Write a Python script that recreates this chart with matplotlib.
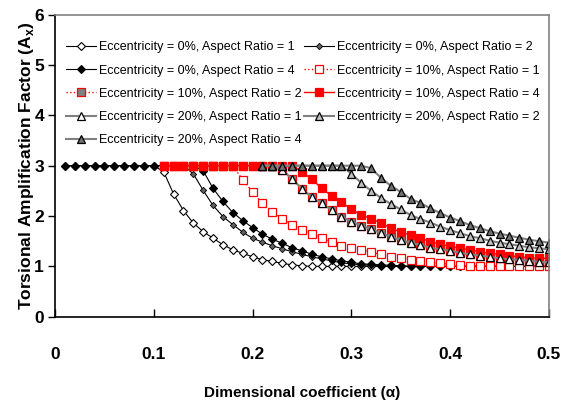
import matplotlib
matplotlib.use("Agg")
import matplotlib.pyplot as plt

# ---- data ----
alpha = [0.01, 0.02, 0.03, 0.04, 0.05, 0.06, 0.07, 0.08, 0.09, 0.10,
         0.11, 0.12, 0.13, 0.14, 0.15, 0.16, 0.17, 0.18, 0.19, 0.20,
         0.21, 0.22, 0.23, 0.24, 0.25, 0.26, 0.27, 0.28, 0.29, 0.30,
         0.31, 0.32, 0.33, 0.34, 0.35, 0.36, 0.37, 0.38, 0.39, 0.40,
         0.41, 0.42, 0.43, 0.44, 0.45, 0.46, 0.47, 0.48, 0.49, 0.50]
alpha_e0 = alpha
alpha_e10 = alpha[10:]
alpha_e20 = alpha[20:]

e0_ar1 = [3.0] * 10 + [2.88, 2.44, 2.11, 1.86, 1.69, 1.56, 1.43, 1.33, 1.26, 1.19,
                       1.13, 1.10, 1.06, 1.03, 1.01] + [1.0] * 25
e0_ar2 = [3.0] * 13 + [2.84, 2.51, 2.21, 1.99, 1.83, 1.68, 1.56, 1.48, 1.41, 1.35,
                       1.29, 1.24, 1.19, 1.15, 1.11, 1.07, 1.05, 1.03, 1.02, 1.01] + [1.0] * 17
e0_ar4 = [3.0] * 14 + [2.90, 2.55, 2.29, 2.07, 1.91, 1.77, 1.64, 1.54, 1.46, 1.37,
                       1.31, 1.24, 1.19, 1.15, 1.11, 1.08, 1.05, 1.04, 1.03, 1.02,
                       1.01] + [1.0] * 15
e10_ar1 = [3.0] * 8 + [2.72, 2.48, 2.25, 2.09, 1.95, 1.82, 1.72, 1.64, 1.56, 1.48,
                       1.41, 1.37, 1.33, 1.28, 1.24, 1.19, 1.16, 1.13, 1.11, 1.08,
                       1.06, 1.05, 1.03, 1.01] + [1.0] * 8
e10_ar2 = [3.0] * 12 + [2.91, 2.74, 2.54, 2.38, 2.25, 2.12, 1.99, 1.89, 1.81, 1.74,
                        1.66, 1.59, 1.52, 1.47, 1.42, 1.37, 1.34, 1.31, 1.27, 1.24,
                        1.21, 1.19, 1.16, 1.14, 1.13, 1.11, 1.09, 1.08]
e10_ar4 = [3.0] * 14 + [2.88, 2.73, 2.55, 2.40, 2.27, 2.14, 2.02, 1.95, 1.86, 1.76,
                        1.68, 1.62, 1.56, 1.49, 1.44, 1.40, 1.36, 1.33, 1.29, 1.26,
                        1.24, 1.21, 1.19, 1.17, 1.16, 1.16]
e20_ar1 = [3.0] * 2 + [2.91, 2.74, 2.54, 2.38, 2.25, 2.12, 1.99, 1.89, 1.81, 1.74,
                       1.66, 1.59, 1.52, 1.47, 1.42, 1.37, 1.34, 1.31, 1.27, 1.24,
                       1.21, 1.19, 1.16, 1.14, 1.13, 1.11, 1.09, 1.08]
e20_ar2 = [3.0] * 9 + [2.84, 2.66, 2.50, 2.36, 2.24, 2.13, 2.02, 1.94, 1.87, 1.79,
                       1.72, 1.66, 1.60, 1.56, 1.51, 1.47, 1.44, 1.41, 1.38, 1.36, 1.34]
e20_ar4 = [3.0] * 11 + [2.95, 2.76, 2.60, 2.48, 2.34, 2.26, 2.15, 2.06, 1.97, 1.90,
                        1.82, 1.76, 1.70, 1.65, 1.61, 1.57, 1.53, 1.50, 1.47]

labels = ["Eccentricity = 0%, Aspect Ratio = 1",
          "Eccentricity = 0%, Aspect Ratio = 2",
          "Eccentricity = 0%, Aspect Ratio = 4",
          "Eccentricity = 10%, Aspect Ratio = 1",
          "Eccentricity = 10%, Aspect Ratio = 2",
          "Eccentricity = 10%, Aspect Ratio = 4",
          "Eccentricity = 20%, Aspect Ratio = 1",
          "Eccentricity = 20%, Aspect Ratio = 2",
          "Eccentricity = 20%, Aspect Ratio = 4"]

x_ticks = [0, 0.1, 0.2, 0.3, 0.4, 0.5]
x_ticklabels = ["0", "0.1", "0.2", "0.3", "0.4", "0.5"]
y_ticks = [0, 1, 2, 3, 4, 5, 6]

# ---- plot ----
plt.rcParams["font.family"] = ["Liberation Sans", "DejaVu Sans"]
plt.rcParams["mathtext.fontset"] = "custom"
plt.rcParams["mathtext.rm"] = "Liberation Sans"
plt.rcParams["mathtext.bf"] = "Liberation Sans:bold"

fig = plt.figure(figsize=(5.7, 4.12), dpi=100)
ax = fig.add_axes([0.0965, 0.2313, 0.8665, 0.733])

gray = "#808080"
series = [
    (alpha_e0, e0_ar1, dict(color="black", lw=0.8, ls="-", marker="D", ms=4.2,
                            mfc="white", mec="black", mew=0.8)),
    (alpha_e0, e0_ar2, dict(color="black", lw=0.8, ls="-", marker="D", ms=3.2,
                            mfc="#606060", mec="black", mew=0.6)),
    (alpha_e0, e0_ar4, dict(color="black", lw=0.8, ls="-", marker="D", ms=4.5,
                            mfc="black", mec="black", mew=0.8)),
    (alpha_e10, e10_ar1, dict(color="red", lw=1.0, ls=":", marker="s", ms=5.8,
                              mfc="white", mec="red", mew=0.9)),
    (alpha_e10, e10_ar2, dict(color="red", lw=1.0, ls=":", marker="s", ms=5.8,
                              mfc=gray, mec="red", mew=0.9)),
    (alpha_e10, e10_ar4, dict(color="red", lw=1.0, ls="-", marker="s", ms=6.0,
                              mfc="red", mec="red", mew=0.9)),
    (alpha_e20, e20_ar1, dict(color=gray, lw=1.5, ls="-", marker="^", ms=6,
                              mfc="white", mec="black", mew=0.9)),
    (alpha_e20, e20_ar2, dict(color=gray, lw=1.5, ls="-", marker="^", ms=6,
                              mfc="#bfbfbf", mec="black", mew=0.9)),
    (alpha_e20, e20_ar4, dict(color=gray, lw=1.5, ls="-", marker="^", ms=6,
                              mfc="#707070", mec="black", mew=0.9)),
]

handles = []
for (xs, ys, st), lab in zip(series, labels):
    h, = ax.plot(xs, ys, label=lab, **st)
    handles.append(h)

ax.set_xlim(0, 0.5)
ax.set_ylim(0, 6)
ax.set_xticks(x_ticks)
ax.set_xticklabels(x_ticklabels)
ax.set_yticks(y_ticks)

for lab in ax.get_xticklabels() + ax.get_yticklabels():
    lab.set_fontweight("bold")
    lab.set_fontsize(12.5)

ax.tick_params(axis="x", direction="in", length=6, width=1, pad=22)
ax.tick_params(axis="y", direction="out", length=5, width=1, pad=3)

ax.spines["left"].set_color("black")
ax.spines["bottom"].set_color("black")
ax.spines["left"].set_linewidth(1.2)
ax.spines["bottom"].set_linewidth(1.2)
ax.spines["top"].set_color(gray)
ax.spines["right"].set_color(gray)
ax.spines["top"].set_linewidth(1.2)
ax.spines["right"].set_linewidth(1.2)

ax.set_xlabel("Dimensional coefficient (\u03b1)", fontsize=11, fontweight="bold",
              labelpad=17)
ax.set_ylabel(r"Torsional Amplification Factor (A$_\mathbf{x}$)", fontsize=12.5,
              fontweight="bold", labelpad=-1)

order = [0, 2, 4, 6, 8, 1, 3, 5, 7]
leg = ax.legend([handles[i] for i in order], [labels[i] for i in order],
                ncol=2, loc="upper left", bbox_to_anchor=(0.022, 0.912),
                frameon=False, borderaxespad=0, borderpad=0,
                handlelength=2.4, handletextpad=0.25, columnspacing=0.2,
                labelspacing=0.9,
                prop={"family": ["Liberation Sans", "DejaVu Sans"],
                      "size": 9})

fig.savefig("out.png", dpi=100)
